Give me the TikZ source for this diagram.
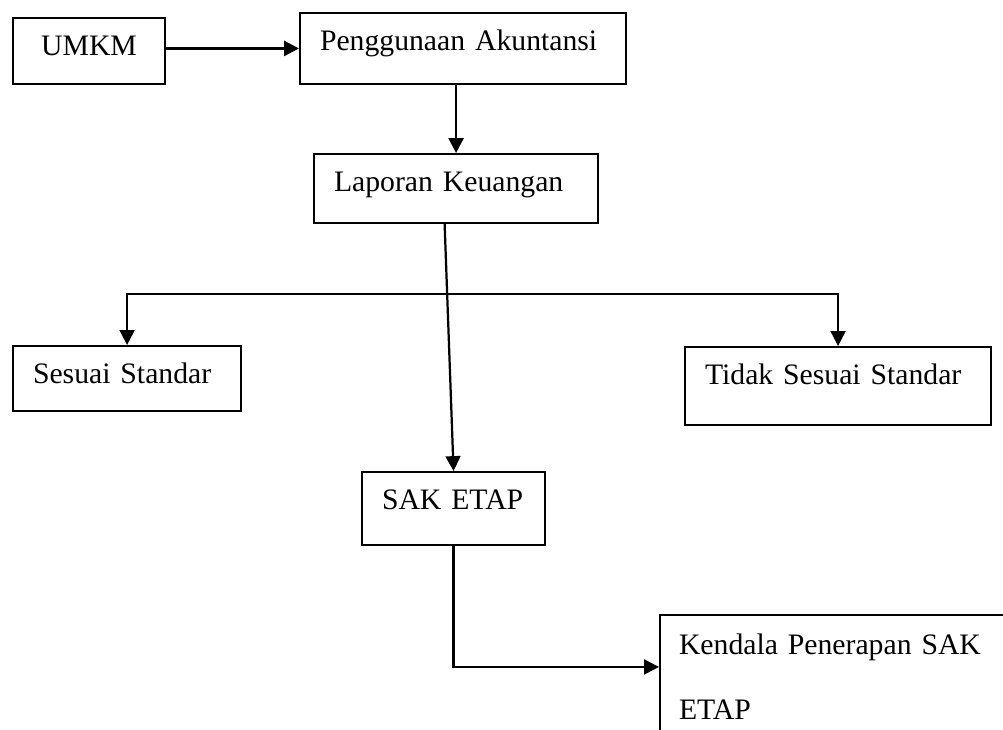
\documentclass[tikz,border=0pt]{standalone}
\usepackage{fontspec}
\setmainfont{Liberation Serif}
\usepackage{tikz}
\usetikzlibrary{arrows.meta,positioning,calc}

\begin{document}
\begin{tikzpicture}[x=0.404pt, y=-0.404pt,
    >={Triangle[length=6pt, width=6pt]},
    kotak/.style={draw, line width=0.8pt, anchor=north west, inner xsep=8.1pt, inner ysep=0pt,
        align=left, text height=15.35pt, font=\fontsize{12}{14.4}\selectfont},
    panah/.style={line width=1.1pt, ->}]
    \useasboundingbox (0,0) rectangle (1003,730);
    \clip (0,0) rectangle (1003,730);

    % Top row
    \node[kotak, align=center, text width=45.25pt, text depth=11.3pt] (umkm) at (12,17) {UMKM};
    \node[kotak, text width=115.5pt, text depth=13.3pt] (guna) at (299,12) {Penggunaan Akuntansi};
    \node[kotak, text width=98.6pt, text depth=12.5pt] (lapor) at (313,153) {Laporan Keuangan};

    % Standard or not
    \node[kotak, text width=76pt, text depth=10.9pt] (sesuai) at (12,345) {Sesuai Standar};
    \node[kotak, text width=107.5pt, text depth=16.2pt] (tidak) at (684,346) {Tidak Sesuai Standar};

    % SAK ETAP and its problems
    \node[kotak, text width=57.8pt, text depth=14.1pt] (sak) at (361,471) {SAK ETAP};
    \node[kotak, inner xsep=7.7pt, text width=133pt, text height=15.8pt, text depth=60pt,
        font=\fontsize{12}{26.3}\selectfont] (kendala) at (659,614)
        {\makebox[122.8pt][s]{Kendala Penerapan SAK}\\ETAP};

    % Arrows
    \draw[panah] (umkm.east |- guna.west) -- (guna.west);
    \draw[panah] (guna.south -| lapor.north) -- (lapor.north);
    \draw[panah, line width=0.9pt] ($(lapor.south west)!0.46!(lapor.south east)$) -- (sak.north);
    \coordinate (bagi) at (480,294);
    \draw[line width=0.8pt, <->] (sesuai.north) |- (bagi) -| (tidak.north);
    \draw[panah, line width=0.9pt] (sak.south) |- ([yshift=-21.4pt]kendala.north west);
\end{tikzpicture}
\end{document}
